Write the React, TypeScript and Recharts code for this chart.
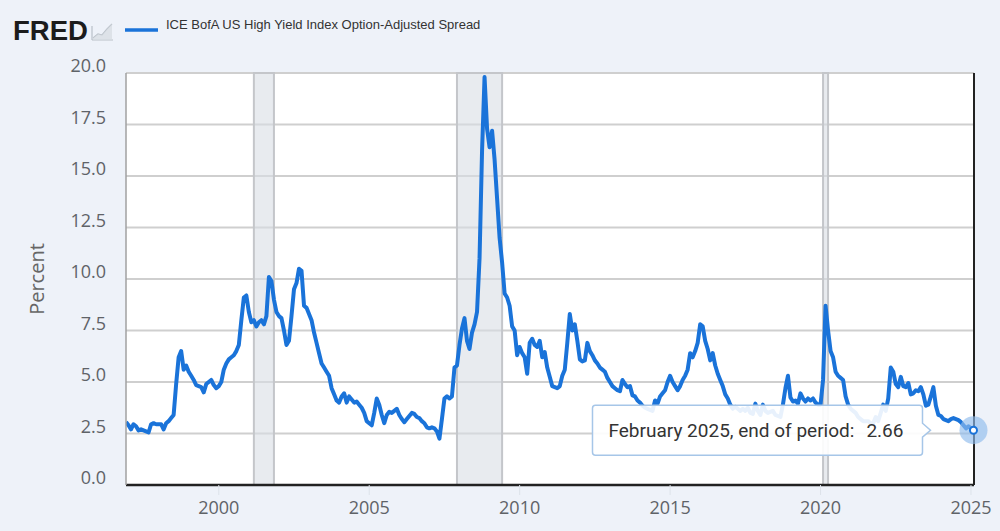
import {
  CartesianGrid,
  Line,
  LineChart,
  ReferenceArea,
  ReferenceDot,
  ReferenceLine,
  XAxis,
  YAxis,
} from "recharts"

// ICE BofA US High Yield OAS, monthly end of period, Dec 1996 .. Feb 2025
const dec1996 = [3.06]
const s1997 = [2.9, 2.7, 2.95, 2.85, 2.65, 2.7, 2.65, 2.6, 2.55, 2.95, 3.0, 2.95]
const s1998 = [2.95, 2.95, 2.7, 3.0, 3.1, 3.25, 3.4, 4.9, 6.2, 6.5, 5.6, 5.8]
const s1999 = [5.5, 5.3, 5.1, 4.85, 4.8, 4.75, 4.5, 4.9, 5.0, 5.1, 4.85, 4.7]
const s2000 = [4.8, 5.0, 5.6, 5.9, 6.1, 6.2, 6.3, 6.5, 6.8, 8.0, 9.1, 9.2]
const s2001 = [8.4, 7.9, 8.0, 7.7, 7.9, 8.0, 7.8, 8.2, 10.1, 9.9, 9.0, 8.4]
const s2002 = [8.2, 8.1, 7.5, 6.8, 7.0, 8.2, 9.5, 9.8, 10.5, 10.4, 8.7, 8.6]
const s2003 = [8.3, 8.0, 7.4, 6.9, 6.4, 5.9, 5.7, 5.5, 5.3, 4.7, 4.4, 4.1]
const s2004 = [4.0, 4.3, 4.45, 4.0, 4.3, 4.15, 4.0, 4.05, 3.9, 3.75, 3.5, 3.1]
const s2005 = [3.0, 2.9, 3.5, 4.2, 3.9, 3.4, 3.0, 3.4, 3.55, 3.5, 3.6, 3.7]
const s2006 = [3.4, 3.2, 3.05, 3.2, 3.35, 3.5, 3.45, 3.3, 3.25, 3.1, 3.0, 2.8]
const s2007 = [2.75, 2.8, 2.75, 2.6, 2.25, 3.2, 4.2, 4.3, 4.2, 4.3, 5.7, 5.8]
const s2008 = [6.8, 7.6, 8.1, 7.0, 6.6, 7.4, 7.8, 8.4, 11.0, 16.2, 19.8, 17.3]
const s2009 = [16.4, 17.2, 15.8, 13.9, 12.0, 10.8, 9.3, 9.1, 8.7, 7.7, 7.5, 6.3]
const s2010 = [6.7, 6.4, 6.2, 5.4, 6.9, 7.1, 6.8, 6.7, 7.0, 6.2, 6.45, 5.7]
const s2011 = [5.25, 4.8, 4.75, 4.7, 4.8, 5.3, 5.6, 6.9, 8.3, 7.5, 7.8, 7.0]
const s2012 = [6.1, 6.0, 6.05, 6.9, 6.5, 6.3, 6.05, 5.9, 5.7, 5.6, 5.5, 5.2]
const s2013 = [5.0, 4.8, 4.7, 4.6, 4.55, 5.1, 4.9, 4.75, 4.8, 4.35, 4.3, 4.1]
const s2014 = [4.0, 3.85, 3.75, 3.7, 3.65, 3.6, 4.1, 3.95, 4.3, 4.45, 4.6, 5.0]
const s2015 = [5.3, 5.0, 4.8, 4.6, 4.8, 5.1, 5.3, 5.6, 6.4, 6.2, 6.5, 6.9]
const s2016 = [7.8, 7.7, 7.0, 6.6, 6.05, 6.4, 5.8, 5.4, 5.1, 4.8, 4.4, 4.2]
const s2017 = [3.9, 3.7, 3.8, 3.7, 3.6, 3.7, 3.6, 3.75, 3.5, 3.45, 3.95, 3.6]
const s2018 = [3.4, 3.9, 3.6, 3.5, 3.55, 3.6, 3.4, 3.35, 3.3, 3.9, 4.7, 5.3]
const s2019 = [4.25, 4.05, 4.1, 3.95, 4.45, 4.2, 4.05, 4.2, 4.1, 4.2, 4.0, 3.9]
const s2020 = [3.9, 5.1, 8.7, 7.5, 6.5, 6.2, 5.5, 5.3, 5.2, 5.1, 4.3, 3.9]
const s2021 = [3.7, 3.6, 3.5, 3.3, 3.2, 3.1, 3.1, 3.1, 3.0, 3.0, 3.3, 3.1]
const s2022 = [3.5, 3.9, 3.6, 4.2, 5.7, 5.5, 4.9, 4.75, 5.25, 4.8, 4.75, 4.95]
const s2023 = [4.4, 4.45, 4.6, 4.55, 4.75, 4.4, 3.85, 3.9, 4.3, 4.75, 3.85, 3.4]
const s2024 = [3.35, 3.2, 3.15, 3.1, 3.2, 3.25, 3.2, 3.15, 3.05, 2.9, 2.75, 2.85]
const s2025 = [2.75, 2.66]

const yearlyValues = [
  dec1996, s1997, s1998, s1999, s2000, s2001, s2002, s2003, s2004, s2005,
  s2006, s2007, s2008, s2009, s2010, s2011, s2012, s2013, s2014, s2015,
  s2016, s2017, s2018, s2019, s2020, s2021, s2022, s2023, s2024, s2025,
]
const firstYear = 1996
const firstMonth = 11 // December

const monthNames = [
  "January", "February", "March", "April", "May", "June",
  "July", "August", "September", "October", "November", "December",
]
const yTicks = [0, 2.5, 5, 7.5, 10, 12.5, 15, 17.5, 20]
const xTicks = [2000, 2005, 2010, 2015, 2020, 2025]
const recessionStarts = ["2001-03", "2007-12", "2020-02"]
const recessionEnds = ["2001-11", "2009-06", "2020-04"]

const toYear = (ym: string) => {
  const [y, m] = ym.split("-").map(Number)
  return y + (m - 1) / 12
}

const data = yearlyValues.flat().map((value, i) => {
  const m = firstMonth + i
  return {
    t: firstYear + m / 12,
    value,
    label: `${monthNames[m % 12]} ${firstYear + Math.floor(m / 12)}`,
  }
})
const last = data[data.length - 1]
const xMin = data[0].t
const xMax = last.t + 0.017

const BLUE = "#1a73d9"
const TICK_FONT = "'Open Sans', sans-serif"

const YTick = ({ x, y, payload }: any) => (
  <text x={x} y={y - 8} textAnchor="end" dominantBaseline="central" fill="#5f6368" fontSize={18} fontFamily={TICK_FONT}>
    {Number(payload.value).toFixed(1)}
  </text>
)

const XTick = ({ x, y, payload }: any) => (
  <text x={x} y={y} textAnchor="middle" dominantBaseline="central" fill="#5f6368" fontSize={18} fontFamily={TICK_FONT}>
    {payload.value}
  </text>
)

const PercentLabel = ({ viewBox }: any) => {
  const x = viewBox.x + 10
  const y = viewBox.y + viewBox.height / 2
  return (
    <text
      x={x}
      y={y}
      transform={`rotate(-90 ${x} ${y})`}
      textAnchor="middle"
      dominantBaseline="central"
      fill="#666"
      fontSize={20}
      fontFamily={TICK_FONT}
    >
      Percent
    </text>
  )
}

function EndTooltip({ cx, cy }: any) {
  const right = cx - 51
  const left = cx - 381
  const top = cy - 25
  const bottom = cy + 25
  const d = `M${left + 3},${top} H${right - 3} Q${right},${top} ${right},${top + 3} V${cy - 7} L${right + 8},${cy} L${right},${cy + 7} V${bottom - 3} Q${right},${bottom} ${right - 3},${bottom} H${left + 3} Q${left},${bottom} ${left},${bottom - 3} V${top + 3} Q${left},${top} ${left + 3},${top} Z`
  return (
    <g>
      <circle cx={cx} cy={cy} r={14} fill="#8fbcec" fillOpacity={0.65} />
      <circle cx={cx} cy={cy} r={3.5} fill="#fff" stroke={BLUE} strokeWidth={2} />
      <path d={d} fill="#fff" fillOpacity={0.9} stroke="#a6c6e8" strokeWidth={1.5} />
      <text x={left + 16} y={cy} dominantBaseline="central" fill="#333" fontSize={19} fontFamily="Roboto, sans-serif">
        <tspan>{last.label}, end of period:</tspan>
        <tspan dx={12}>{last.value.toFixed(2)}</tspan>
      </text>
    </g>
  )
}

export default function App() {
  return (
    <div style={{ position: "absolute", left: 0, top: 0, width: 1000, height: 531, background: "#eef2f9", overflow: "hidden" }}>
      <LineChart width={1000} height={531} data={data} margin={{ top: 73, right: 26, left: 26, bottom: 16 }}>
        <CartesianGrid vertical={false} stroke="#cfcfcf" strokeWidth={2} fill="#fff" />
        {recessionStarts.map((s, i) => (
          <ReferenceArea
            key={s}
            x1={toYear(s)}
            x2={toYear(recessionEnds[i])}
            fill="#d9dde4"
            fillOpacity={0.6}
            stroke="#c4c6ca"
            strokeWidth={2}
          />
        ))}
        <XAxis
          type="number"
          dataKey="t"
          domain={[xMin, xMax]}
          allowDataOverflow
          ticks={xTicks}
          height={30}
          tickSize={10}
          tickMargin={12}
          tickLine={{ stroke: "#dde3ea" }}
          axisLine={{ stroke: "#222", strokeWidth: 2.5 }}
          tick={<XTick />}
        />
        <YAxis
          domain={[0, 20]}
          allowDataOverflow
          ticks={yTicks}
          width={100}
          tickLine={false}
          tickMargin={14}
          axisLine={{ stroke: "#a0a0a0", strokeWidth: 1.5 }}
          tick={<YTick />}
          label={<PercentLabel />}
        />
        <ReferenceLine x={xMax} stroke="#222" strokeWidth={2} />
        <Line
          type="linear"
          dataKey="value"
          stroke={BLUE}
          strokeWidth={4}
          strokeLinejoin="round"
          dot={false}
          isAnimationActive={false}
        />
        <ReferenceDot x={last.t} y={last.value} r={4} shape={(p: any) => <EndTooltip cx={p.cx} cy={p.cy} />} />
      </LineChart>
      <svg width={1000} height={60} style={{ position: "absolute", left: 0, top: 0 }}>
        <text x={13} y={40} fontFamily="'Liberation Sans', Arial, sans-serif" fontWeight="bold" fontSize={27} fill="#1c1c1c" textLength={75} lengthAdjust="spacingAndGlyphs">
          FRED
        </text>
        <g stroke="#b9c0c8" strokeWidth={1.2} fill="none">
          <path d="M92,40 H113 M92,40 V26" />
          <path d="M93,38 L98,34 L102,35 L107,29 L112,24" />
        </g>
        <path d="M93,38 L98,34 L102,35 L107,29 L112,24 V40 H93 Z" fill="#d5dbe1" opacity={0.7} />
        <line x1={125} x2={158} y1={30} y2={30} stroke={BLUE} strokeWidth={3.5} />
        <text x={166} y={24} dominantBaseline="central" fontFamily="'Liberation Sans', Arial, sans-serif" fontSize={13} fill="#333">
          ICE BofA US High Yield Index Option-Adjusted Spread
        </text>
      </svg>
    </div>
  )
}
